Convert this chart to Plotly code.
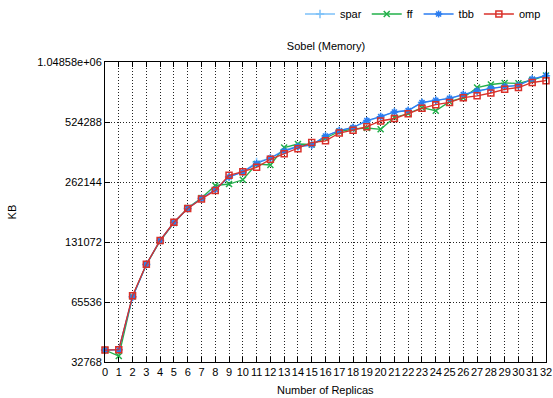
import plotly.graph_objects as go

replicas = list(range(33))

spar = [37600, 37800, 69600, 101100, 133400, 164200, 193000, 216600, 240400, 277700,
        294300, 330000, 345900, 380000, 395000, 402000, 446000, 474100, 492000, 528000,
        557400, 588500, 598800, 656800, 673700, 689400, 720300, 745000, 773800, 790100,
        801200, 861600, 895100]
ff = [37600, 35100, 69800, 101100, 132600, 163300, 194100, 217900, 251800, 256100,
      269000, 322700, 319000, 390500, 406600, 404300, 435800, 469800, 483600, 489200,
      481900, 552300, 578400, 618500, 597400, 662900, 694200, 781000, 808600, 822700,
      819900, 851700, 897200]
tbb = [37600, 37800, 69400, 101100, 133400, 164200, 193000, 216600, 240400, 277700,
       294300, 324600, 345900, 375000, 395000, 401900, 446000, 474100, 492000, 533500,
       557400, 588500, 598800, 656800, 673700, 689400, 720300, 751800, 773800, 790100,
       801200, 861600, 895100]
omp = [37600, 37800, 70500, 101300, 133400, 164600, 193000, 215400, 237600, 283200,
       295300, 310700, 340700, 363500, 385100, 413700, 421900, 461700, 476900, 496600,
       530400, 545900, 577000, 614200, 640300, 656800, 694200, 709600, 732900, 765000,
       781000, 827400, 844800]

y_ticks = [32768, 65536, 131072, 262144, 524288, 1048576]
y_tick_text = ["32768", "65536", "131072", "262144", "524288", "1.04858e+06"]

series = [
    ("spar", spar, "#7cc0f8", "cross-thin-open", 6),
    ("ff", ff, "#22b04a", "x-thin-open", 6),
    ("tbb", tbb, "#2a7cf0", "asterisk-open", 6),
    ("omp", omp, "#d9302a", "square-open", 6),
]

fig = go.Figure()
for name, vals, color, sym, size in series:
    fig.add_trace(go.Scatter(
        x=replicas, y=vals, name=name, mode="lines+markers",
        line=dict(color=color, width=1.3),
        marker=dict(symbol=sym, size=size, color=color, line=dict(color=color, width=1.5)),
        cliponaxis=False,
    ))

font_family = "Liberation Sans, Arial, sans-serif"
axis_common = dict(
    showline=True, linecolor="black", linewidth=1, mirror="ticks",
    ticks="inside", ticklen=5, tickcolor="black",
    showgrid=True, gridcolor="#222222", griddash="1px,2px", gridwidth=1,
    zeroline=False, automargin=False, ticklabeloverflow="allow",
    tickfont=dict(size=11, color="black", family=font_family),
)

fig.update_layout(
    width=553, height=398,
    margin=dict(l=105, r=7, t=62, b=36, autoexpand=False),
    paper_bgcolor="white", plot_bgcolor="white",
    font=dict(family=font_family, size=11, color="black"),
    title=dict(text="Sobel (Memory)", x=0.5895, xref="container", xanchor="center",
               y=0.8844, yref="container", yanchor="middle",
               font=dict(size=11, family=font_family, color="black")),
    legend=dict(orientation="h", x=1.0, xanchor="right", y=1.16, yanchor="middle",
                font=dict(size=11, family=font_family), bgcolor="rgba(0,0,0,0)",
                tracegroupgap=0),
    xaxis=dict(range=[0, 32], tickmode="linear", tick0=0, dtick=1, tickangle=0,
               **axis_common),
    yaxis=dict(type="log", range=[4.515450, 6.020600],
               tickmode="array", tickvals=y_ticks, ticktext=y_tick_text,
               **axis_common),
    annotations=[
        dict(text="Number of Replicas", xref="paper", yref="paper", x=0.5, y=-0.093,
             xanchor="center", yanchor="middle", showarrow=False,
             font=dict(size=11, family=font_family, color="black")),
        dict(text="KB", xref="paper", yref="paper", x=-0.21, y=0.5,
             xanchor="center", yanchor="middle", showarrow=False, textangle=-90,
             font=dict(size=11, family=font_family, color="black")),
    ],
)

fig.write_html(
    "out.html",
    config={"displayModeBar": False},
    post_script="document.body.style.margin='0';document.body.style.overflow='hidden';",
)
